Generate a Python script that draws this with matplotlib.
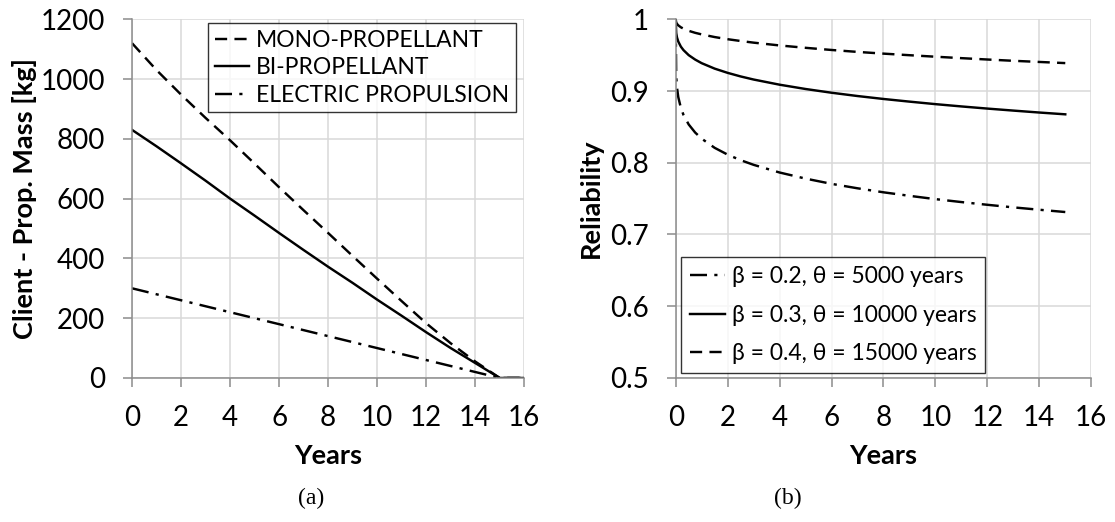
import matplotlib
matplotlib.use("Agg")
import matplotlib.pyplot as plt

plt.rcParams['font.family'] = ['Lato', 'DejaVu Sans']

# ---- data, panel (a): propellant mass vs. years ----
years_a = list(range(0, 17))
mono = [1120, 1030, 948, 870, 795, 717, 638, 561, 485, 408, 332, 257, 183, 116, 55, 0, 0]
bi = [830, 775, 718, 660, 600, 543, 485, 428, 372, 318, 262, 208, 153, 100, 50, 0, 0]
electric = [300, 280, 260, 240, 220, 200, 180, 160, 140, 120, 100, 80, 60, 40, 20, 0, 0]
labels_a = ["MONO-PROPELLANT", "BI-PROPELLANT", "ELECTRIC PROPULSION"]
yticks_a = [0, 200, 400, 600, 800, 1000, 1200]

# ---- data, panel (b): reliability vs. years ----
years_b = [0, 0.02, 0.05, 0.1, 0.2, 0.3, 0.5, 0.75, 1, 1.5, 2, 2.5, 3, 4, 5, 6, 7, 8,
           9, 10, 11, 12, 13, 14, 15]
rel_02 = [1.0, 0.9201, 0.9048, 0.8915, 0.8764, 0.8667, 0.8534, 0.8421, 0.8336, 0.8208,
          0.8113, 0.8036, 0.7971, 0.7864, 0.7779, 0.7706, 0.7644, 0.7588, 0.7539, 0.7493,
          0.7452, 0.7414, 0.7378, 0.7345, 0.7313]
rel_03 = [1.0, 0.9807, 0.9746, 0.9689, 0.9618, 0.9570, 0.9500, 0.9438, 0.9388, 0.9312,
          0.9253, 0.9203, 0.9160, 0.9088, 0.9028, 0.8976, 0.8930, 0.8889, 0.8852, 0.8817,
          0.8785, 0.8755, 0.8727, 0.8700, 0.8675]
rel_04 = [1.0, 0.9955, 0.9936, 0.9915, 0.9888, 0.9869, 0.9839, 0.9811, 0.9789, 0.9752,
          0.9722, 0.9697, 0.9674, 0.9635, 0.9602, 0.9572, 0.9545, 0.9521, 0.9499, 0.9478,
          0.9458, 0.9439, 0.9421, 0.9405, 0.9389]
labels_b = ["β = 0.2, θ = 5000 years", "β = 0.3, θ = 10000 years", "β = 0.4, θ = 15000 years"]
yticks_b = [0.5, 0.6, 0.7, 0.8, 0.9, 1.0]
yticklabels_b = ["0.5", "0.6", "0.7", "0.8", "0.9", "1"]
xticks = list(range(0, 17, 2))

DASH = (0, (5, 3))
DASHDOT = (0, (7, 3, 1.3, 3))
LW = 1.75
GRID = "#d9d9d9"
AXIS = "#8c8c8c"

fig = plt.figure(figsize=(11.15, 5.22), dpi=100)
ax01 = fig.add_axes([0.1184, 0.2759, 0.3518, 0.6872])
ax02 = fig.add_axes([0.6060, 0.2759, 0.3727, 0.6872])


def excel_style(ax):
    ax.grid(True, color=GRID, linewidth=1.1)
    ax.set_axisbelow(True)
    for s in ["top", "right"]:
        ax.spines[s].set_visible(False)
    for s in ["left", "bottom"]:
        ax.spines[s].set_color(AXIS)
        ax.spines[s].set_linewidth(1.1)
    ax.tick_params(axis="both", direction="out", length=6.3, width=1.1, color=AXIS,
                   labelsize=20, pad=13)
    ax.set_xlim(0, 16)
    ax.set_xticks(xticks)
    ax.set_xlabel("Years", fontsize=19.5, fontweight="bold")
    ax.xaxis.set_label_coords(0.5, -0.184)


# ---- PLOT (a) ----
excel_style(ax01)
ax01.plot(years_a, mono, color="black", linewidth=LW, linestyle=DASH, label=labels_a[0])
ax01.plot(years_a, bi, color="black", linewidth=LW, label=labels_a[1])
ax01.plot(years_a, electric, color="black", linewidth=LW, linestyle=DASHDOT, label=labels_a[2])
ax01.set_ylim(0, 1200)
ax01.set_yticks(yticks_a)
ax01.set_ylabel("Client - Prop. Mass [kg]", fontsize=19.5, fontweight="bold")
ax01.yaxis.set_label_coords(-0.242, 0.5)
leg = ax01.legend(loc="upper left", bbox_to_anchor=(0.193, 0.99), borderaxespad=0,
                  fontsize=16.5, frameon=True, fancybox=False, edgecolor="black",
                  handlelength=1.5, handletextpad=0.3, labelspacing=0.28, borderpad=0.3)
leg.get_frame().set_linewidth(1.0)

# ---- PLOT (b) ----
excel_style(ax02)
ax02.plot(years_b, rel_02, color="black", linewidth=LW, linestyle=DASHDOT, label=labels_b[0])
ax02.plot(years_b, rel_03, color="black", linewidth=LW, label=labels_b[1])
ax02.plot(years_b, rel_04, color="black", linewidth=LW, linestyle=DASH, label=labels_b[2])
ax02.set_ylim(0.5, 1.0)
ax02.set_yticks(yticks_b)
ax02.set_yticklabels(yticklabels_b)
ax02.set_ylabel("Reliability", fontsize=19.5, fontweight="bold")
ax02.yaxis.set_label_coords(-0.175, 0.5)
leg = ax02.legend(loc="lower left", bbox_to_anchor=(0.013, 0.014), borderaxespad=0,
                  fontsize=16.5, frameon=True, fancybox=False, edgecolor="black",
                  handlelength=1.5, handletextpad=0.3, labelspacing=0.75, borderpad=0.4)
leg.get_frame().set_linewidth(1.0)

# captions
fig.text(311 / 1115, 1 - 498 / 522, "(a)", family="Liberation Serif", fontsize=17,
         ha="center", va="center")
fig.text(788 / 1115, 1 - 498 / 522, "(b)", family="Liberation Serif", fontsize=17,
         ha="center", va="center")

fig.savefig("out.png", dpi=100)
